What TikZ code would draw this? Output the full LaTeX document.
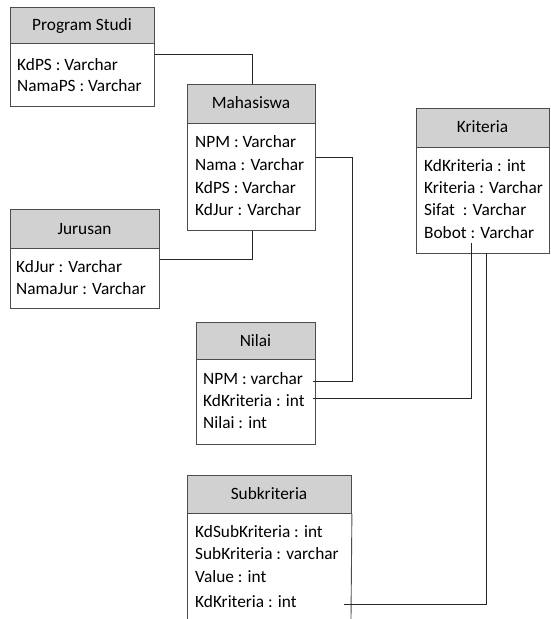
\documentclass[tikz,border=0pt]{standalone}
\usepackage{fontspec}
\setmainfont{Carlito}
\begin{document}
\begin{tikzpicture}[x=1pt,y=-1pt,
  hdr/.style={draw=black!70, fill=black!18, line width=0.9pt, anchor=north west, inner sep=0pt},
  bdy/.style={draw=black!70, fill=white, line width=0.9pt, anchor=north west, inner sep=0pt},
  lbl/.style={font=\fontsize{17.3}{20}\selectfont, inner sep=0pt, anchor=base west},
  ttl/.style={font=\fontsize{17.3}{20}\selectfont, inner sep=0pt, anchor=base},
  conn/.style={draw=black!85, line width=0.7pt}]
\useasboundingbox (0,0) rectangle (551,619);

% Program Studi
\node[hdr, minimum width=144pt, minimum height=36pt] (psH) at (10,7) {};
\node[bdy, minimum width=144pt, minimum height=63pt] (psB) at (10,43) {};
\node[ttl] (psT) at (82,30.5) {Program Studi};
\node[lbl] (ps1) at (17,70.5) {KdPS : Varchar};
\node[lbl] (ps2) at (17,91) {NamaPS : Varchar};

% Mahasiswa
\node[hdr, minimum width=128pt, minimum height=39pt] (mhH) at (187,84) {};
\node[bdy, minimum width=128pt, minimum height=107pt] (mhB) at (187,123) {};
\node[ttl] (mhT) at (251,108.5) {Mahasiswa};
\node[lbl] (mh1) at (195,147.8) {NPM : Varchar};
\node[lbl] (mh2) at (195,170.5) {Nama : Varchar};
\node[lbl] (mh3) at (195,193.2) {KdPS : Varchar};
\node[lbl] (mh4) at (195,215.5) {KdJur : Varchar};

% Kriteria
\node[hdr, minimum width=133pt, minimum height=39pt] (krH) at (416,108) {};
\node[bdy, minimum width=133pt, minimum height=106pt] (krB) at (416,147) {};
\node[ttl] (krT) at (482.5,132.5) {Kriteria};
\node[lbl] (kr1) at (424,171.2) {KdKriteria : int};
\node[lbl] (kr2) at (424,193.5) {Kriteria : Varchar};
\node[lbl] (kr3) at (424,215.5) {Sifat~ : Varchar};
\node[lbl] (kr4) at (424,238.2) {Bobot : Varchar};

% Jurusan
\node[hdr, minimum width=149pt, minimum height=39pt] (juH) at (10,209) {};
\node[bdy, minimum width=149pt, minimum height=60pt] (juB) at (10,248) {};
\node[ttl] (juT) at (84.5,234) {Jurusan};
\node[lbl] (ju1) at (16,272) {KdJur : Varchar};
\node[lbl] (ju2) at (16,294) {NamaJur : Varchar};

% Nilai
\node[hdr, minimum width=119pt, minimum height=37pt] (nlH) at (196,322) {};
\node[bdy, minimum width=119pt, minimum height=85pt] (nlB) at (196,359) {};
\node[ttl] (nlT) at (255.5,346) {Nilai};
\node[lbl] (nl1) at (203,384.5) {NPM : varchar};
\node[lbl] (nl2) at (203,406.5) {KdKriteria : int};
\node[lbl] (nl3) at (203,428.5) {Nilai : int};

% Subkriteria (open at the bottom)
\node[hdr, minimum width=164pt, minimum height=38pt] (sbH) at (187,475) {};
\draw[draw=black!70, line width=0.9pt] (sbH.south west) -- (187,619);
\draw[draw=black!70, line width=0.9pt] (sbH.south east) -- (351,619);
\node[ttl] (sbT) at (269,499.5) {Subkriteria};
\node[lbl] (sb1) at (195,537) {KdSubKriteria : int};
\node[lbl] (sb2) at (195,559.5) {SubKriteria : varchar};
\node[lbl] (sb3) at (195,582) {Value : int};
\node[lbl] (sb4) at (195,607) {KdKriteria : int};

% connectors
\coordinate (a1) at (252,54);
\coordinate (a2) at (252,259);
\coordinate (b1) at (352,157);
\coordinate (b2) at (313,381);
\coordinate (c1) at (471,243);
\coordinate (c2) at (313,398);
\coordinate (d1) at (486,253);
\coordinate (d2) at (344,604);

\draw[conn] (psB.north east |- a1) -- (a1) -- (mhH.north -| a1);
\draw[conn] (mhB.south -| a2) -- (a2) -- (juB.east |- a2);
\draw[conn] (mhB.east |- b1) -| (b2 -| b1) -- (b2);
\draw[conn] (c1) |- (c2);
\draw[conn] (d1) |- (d2);
\end{tikzpicture}
\end{document}
